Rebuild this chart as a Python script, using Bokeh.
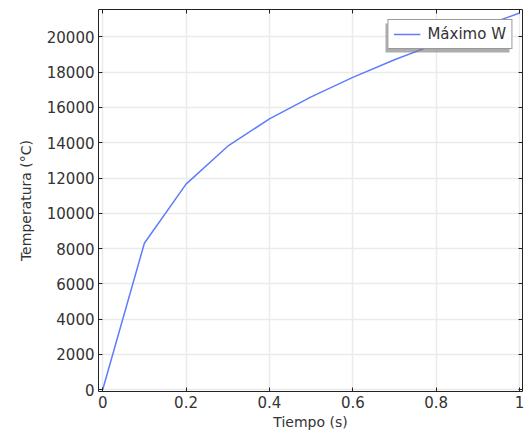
from bokeh.plotting import figure
from bokeh.models import LinearAxis, Range1d, Legend, LegendItem, FixedTicker, CustomJSTickFormatter, BoxAnnotation
from bokeh.embed import file_html
from bokeh.resources import INLINE

tiempo = [0.0, 0.1, 0.2, 0.3, 0.4, 0.5, 0.6, 0.7, 0.8, 0.9, 1.0]
temperatura = [0, 8300, 11650, 13800, 15350, 16600, 17700, 18700, 19600, 20500, 21350]
serie = "Máximo W"
x_ticks = [0, 0.2, 0.4, 0.6, 0.8, 1.0]
y_ticks = [0, 2000, 4000, 6000, 8000, 10000, 12000, 14000, 16000, 18000, 20000]

FONT = "DejaVu Sans"
TXT = "#333333"

p = figure(width=525, height=434, output_backend="svg", toolbar_location=None,
           x_range=Range1d(-0.01, 1.007), y_range=Range1d(-100, 21550),
           min_border_left=98, min_border_right=3, min_border_top=9, min_border_bottom=43)

r = p.line(tiempo, temperatura, line_color="#5f7dfb", line_width=1.5)

for ax in [p.xaxis[0], p.yaxis[0]]:
    ax.major_tick_in = 4
    ax.major_tick_out = 0
    ax.minor_tick_in = 0
    ax.minor_tick_out = 0
    ax.axis_line_color = "#222222"
    ax.major_tick_line_color = "#222222"
    ax.major_label_text_font = FONT
    ax.major_label_text_font_size = "15px"
    ax.major_label_text_color = TXT
    ax.axis_label_text_font = FONT
    ax.axis_label_text_font_size = "14px"
    ax.axis_label_text_font_style = "normal"
    ax.axis_label_text_color = TXT

p.xaxis[0].ticker = FixedTicker(ticks=x_ticks)
p.yaxis[0].ticker = FixedTicker(ticks=y_ticks)
p.xaxis[0].axis_label = "Tiempo (s)"
p.yaxis[0].axis_label = "Temperatura (°C)"
p.xaxis[0].axis_label_standoff = 3
p.yaxis[0].axis_label_standoff = 10
p.xaxis[0].major_label_standoff = 4
p.yaxis[0].major_label_standoff = 4
p.xaxis[0].formatter = CustomJSTickFormatter(code="return tick == 0 ? '0' : (tick == 1 ? '1' : tick.toFixed(1));")

top = LinearAxis(ticker=FixedTicker(ticks=x_ticks), major_label_text_font_size="0px",
                 major_tick_in=4, major_tick_out=0, minor_tick_in=0, minor_tick_out=0,
                 axis_line_color="#222222", major_tick_line_color="#222222")
right = LinearAxis(ticker=FixedTicker(ticks=y_ticks), major_label_text_font_size="0px",
                   major_tick_in=4, major_tick_out=0, minor_tick_in=0, minor_tick_out=0,
                   axis_line_color="#222222", major_tick_line_color="#222222")
top.major_label_standoff = 0
right.major_label_standoff = 0
p.add_layout(top, "above")
p.add_layout(right, "right")

p.xgrid.ticker = FixedTicker(ticks=x_ticks)
p.ygrid.ticker = FixedTicker(ticks=y_ticks)
p.grid.grid_line_color = "#ebebeb"
p.grid.grid_line_width = 1.5
p.outline_line_color = None

shadow = BoxAnnotation(left=287, right=411, top=368, bottom=339,
                       left_units="screen", right_units="screen",
                       top_units="screen", bottom_units="screen",
                       fill_color="#777777", fill_alpha=0.6, line_color=None)
p.add_layout(shadow)

legend = Legend(items=[LegendItem(label=serie, renderers=[r])], location="top_right")
legend.label_text_font = FONT
legend.label_text_font_size = "15px"
legend.label_text_color = TXT
legend.border_line_color = "#333333"
legend.border_line_width = 1
legend.background_fill_alpha = 1
legend.margin = 10
legend.padding = 5
legend.glyph_width = 27
legend.label_standoff = 7
legend.spacing = 0
legend.label_height = 14
legend.glyph_height = 14
p.add_layout(legend)

p.background_fill_color = "white"
p.border_fill_color = "white"

open("out.html", "w").write(file_html(p, INLINE))
